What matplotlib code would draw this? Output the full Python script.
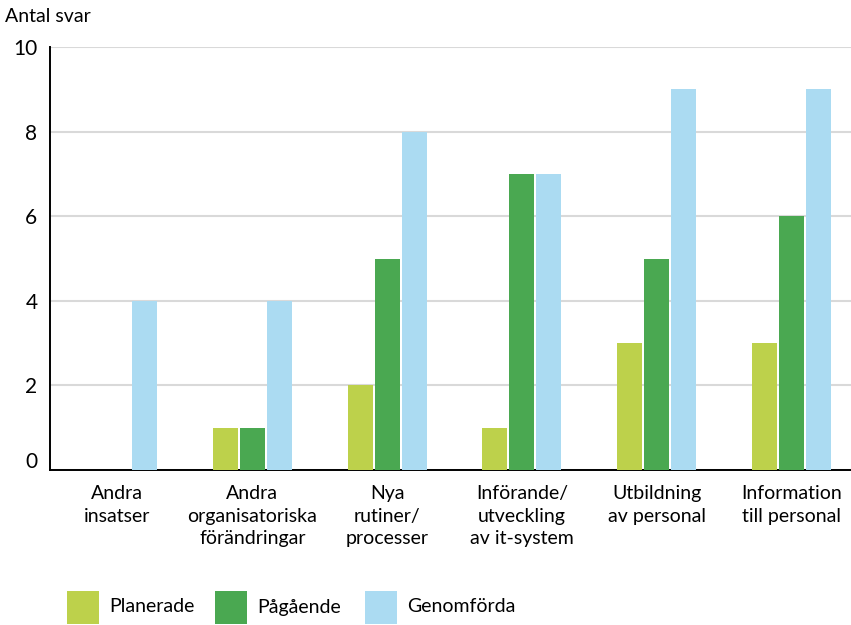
import matplotlib
matplotlib.use("Agg")
import matplotlib.pyplot as plt
import matplotlib.transforms as mtransforms
from matplotlib.patches import Rectangle
import numpy as np

plt.rcParams['font.family'] = ['Lato', 'DejaVu Sans']

categories = [
    "Andra\ninsatser",
    "Andra\norganisatoriska\nförändringar",
    "Nya\nrutiner/\nprocesser",
    "Införande/\nutveckling\nav it-system",
    "Utbildning\nav personal",
    "Information\ntill personal",
]
series_names = ["Planerade", "Pågående", "Genomförda"]
planerade = [0, 1, 2, 1, 3, 3]
pagaende = [0, 1, 5, 7, 5, 6]
genomforda = [4, 4, 8, 7, 9, 9]
y_ticks = [0, 2, 4, 6, 8, 10]

colors = ["#BDD14B", "#4AA851", "#ABDBF2"]

W, H = 851, 625
fig = plt.figure(figsize=(W / 100, H / 100), dpi=100)
ax = fig.add_axes([50 / W, 155 / H, 809 / W, 423 / H])

x = np.arange(len(categories))
width = 0.186
step = 0.2
for i, (vals, col) in enumerate(zip([planerade, pagaende, genomforda], colors)):
    ax.bar(x + (i - 1) * step, vals, width=width, color=col, zorder=3)

ax.set_xlim(-0.5, len(categories) - 0.5)
ax.set_ylim(0, 10)
ax.set_yticks(y_ticks)
ax.set_yticklabels([str(v) for v in y_ticks], fontsize=15)
ax.yaxis.grid(True, color="#d9d9d9", linewidth=1.5, zorder=0)
ax.set_axisbelow(True)
ax.tick_params(axis="y", length=0, pad=9)
ax.tick_params(axis="x", length=0, pad=11)
ax.set_xticks(x)
ax.set_xticklabels(categories, fontsize=14, linespacing=1.4)

for side in ["top", "right"]:
    ax.spines[side].set_visible(False)
ax.spines["left"].set_color("black")
ax.spines["left"].set_linewidth(1.4)
ax.spines["bottom"].set_color("black")
ax.spines["bottom"].set_linewidth(1.4)

# raise the zero label slightly above the baseline
zero_label = ax.get_yticklabels()[0]
zero_label.set_transform(zero_label.get_transform() +
                         mtransforms.ScaledTranslation(0, 10 / 100, fig.dpi_scale_trans))

fig.text(5 / W, 1 - 17 / H, "Antal svar", fontsize=14, va="center", ha="left")

# legend: colour squares with labels along the bottom edge
legend_x = [67, 215, 365]
for lx, name, col in zip(legend_x, series_names, colors):
    fig.add_artist(Rectangle((lx / W, 1 / H), 32 / W, 33 / H, transform=fig.transFigure,
                             facecolor=col, edgecolor="none"))
    fig.text((lx + 42) / W, 1 - 607 / H, name, fontsize=14, va="center", ha="left")

fig.savefig("out.png", dpi=100)
